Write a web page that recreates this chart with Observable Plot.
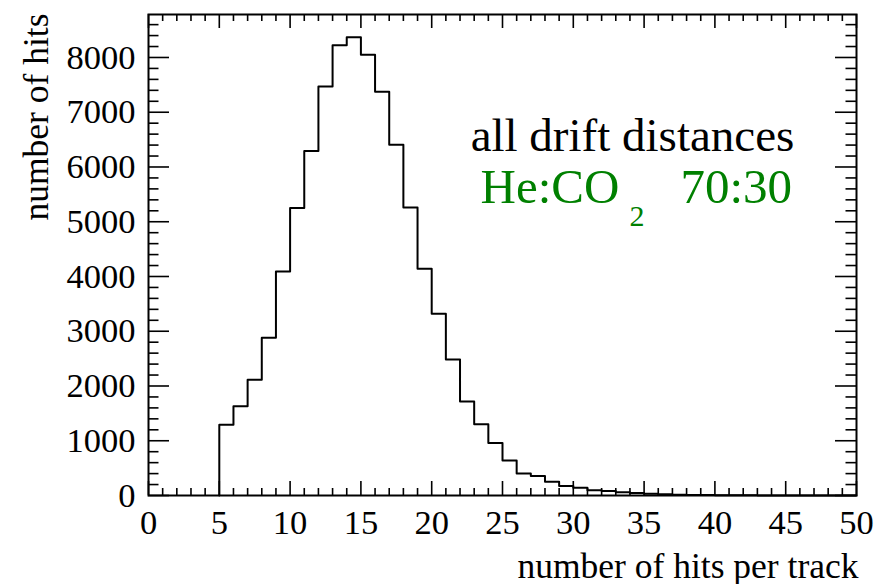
<!DOCTYPE html>
<html>
<head>
<meta charset="utf-8">
<script src="https://cdn.jsdelivr.net/npm/d3@7"></script>
<script src="https://cdn.jsdelivr.net/npm/@observablehq/plot@0.6"></script>
<style>
  html, body { margin: 0; padding: 0; background: #fff; }
  #chart svg { display: block; }
</style>
</head>
<body>
<div id="chart"></div>
<script>
// Hits-per-track histogram, unit-width bins starting at 5 hits.
const binStart = 5;
const hitCounts = [
  1290, 1630, 2115, 2880, 4090, 5250, 6290, 7470, 8225, 8370,  // 5-14
  8050, 7375, 6405, 5260, 4140, 3320, 2485, 1715, 1300, 960,   // 15-24
  640, 400, 355, 250, 175, 140, 95, 80, 60, 45,                // 25-34
  32, 24, 15, 10, 7, 5, 4, 3, 2, 2,                            // 35-44
  1, 1, 1, 0, 0                                                // 45-49
];

// Axis ticks
const xMajorTicks = [0, 5, 10, 15, 20, 25, 30, 35, 40, 45, 50];
const yMajorTicks = [0, 1000, 2000, 3000, 4000, 5000, 6000, 7000, 8000];
const xMinorStep = 1;
const yMinorStep = 200;

// Texts
const xTitle = "number of hits per track";
const yTitle = "number of hits";
const selectionLabel = "all drift distances";
const gasLabel = "He:CO";
const gasSubscript = "2";
const gasMixture = "70:30";

// Layout
const W = 879, H = 584;
const mL = 148, mR = 23, mT = 14, mB = 89;
const frameW = W - mL - mR;
const frameH = H - mT - mB;
const xDomain = [0, 50];
const yDomain = [0, 8785];

const serif = '"Liberation Serif", "Times New Roman", Times, serif';
const green = "#008000";

// Minor tick positions (skip the majors)
const xMinorTicks = d3.range(xDomain[0], xDomain[1] + 0.001, xMinorStep).filter(v => v % 5 !== 0);
const yMinorTicks = d3.range(0, yDomain[1], yMinorStep).filter(v => v % 1000 !== 0);

// Step outline of the histogram: rise at the first edge, run along each bin, drop at the end
const outline = [{x: binStart, y: 0}]
  .concat(hitCounts.map((v, i) => ({x: binStart + i, y: v})))
  .concat([{x: binStart + hitCounts.length, y: hitCounts[hitCounts.length - 1]},
           {x: binStart + hitCounts.length, y: 0}]);

// Inward tick marks (ROOT style), drawn with fixed pixel lengths through insets
const tickLenX = 14, tickLenXMinor = 7;
const tickLenY = 21, tickLenYMinor = 10.5;
const tickStyle = {stroke: "black", strokeWidth: 1.6};

const chart = Plot.plot({
  width: W,
  height: H,
  marginLeft: mL,
  marginRight: mR,
  marginTop: mT,
  marginBottom: mB,
  style: {fontFamily: serif, fontSize: "34px", background: "white", color: "black", overflow: "visible"},
  x: {domain: xDomain, axis: null},
  y: {domain: yDomain, axis: null},
  marks: [
    // bottom and top x ticks
    Plot.tickX(xMajorTicks, {x: d => d, insetTop: frameH - tickLenX, ...tickStyle}),
    Plot.tickX(xMinorTicks, {x: d => d, insetTop: frameH - tickLenXMinor, ...tickStyle}),
    Plot.tickX(xMajorTicks, {x: d => d, insetBottom: frameH - tickLenX, ...tickStyle}),
    Plot.tickX(xMinorTicks, {x: d => d, insetBottom: frameH - tickLenXMinor, ...tickStyle}),
    // left and right y ticks
    Plot.tickY(yMajorTicks, {y: d => d, insetRight: frameW - tickLenY, ...tickStyle}),
    Plot.tickY(yMinorTicks, {y: d => d, insetRight: frameW - tickLenYMinor, ...tickStyle}),
    Plot.tickY(yMajorTicks, {y: d => d, insetLeft: frameW - tickLenY, ...tickStyle}),
    Plot.tickY(yMinorTicks, {y: d => d, insetLeft: frameW - tickLenYMinor, ...tickStyle}),

    // tick labels
    Plot.axisX({ticks: xMajorTicks, tickSize: 0, tickPadding: 14, tickFormat: d => String(d),
                label: null, fontSize: 34.5, fontFamily: serif}),
    Plot.axisY({ticks: yMajorTicks, tickSize: 0, tickPadding: 13, tickFormat: d => String(d),
                label: null, fontSize: 34.5, fontFamily: serif}),

    // histogram
    Plot.line(outline, {x: "x", y: "y", curve: "step-after", stroke: "black", strokeWidth: 2}),

    // frame
    Plot.frame({stroke: "black", strokeWidth: 2}),

    // axis titles
    Plot.text([xTitle], {text: d => d, frameAnchor: "bottom-right", textAnchor: "end",
                         lineAnchor: "bottom", dx: 2, dy: 82, fontSize: 35.5}),
    Plot.text([yTitle], {text: d => d, frameAnchor: "top-left", textAnchor: "end",
                         lineAnchor: "bottom", rotate: -90, dx: -101, dy: -1, fontSize: 35.5}),

    // annotations
    Plot.text([selectionLabel], {text: d => d, x: () => 34.18, y: () => 6301,
                                 textAnchor: "middle", lineAnchor: "bottom", fontSize: 47, fill: "black"}),
    Plot.text([gasLabel], {text: d => d, x: () => 33.25, y: () => 5351,
                           textAnchor: "end", lineAnchor: "bottom", fontSize: 49, fill: green}),
    Plot.text([gasSubscript], {text: d => d, x: () => 33.97, y: () => 4931,
                               textAnchor: "start", lineAnchor: "bottom", fontSize: 30, fill: green}),
    Plot.text([gasMixture], {text: d => d, x: () => 37.57, y: () => 5351,
                             textAnchor: "start", lineAnchor: "bottom", fontSize: 49, fill: green})
  ]
});

document.getElementById("chart").appendChild(chart);
</script>
</body>
</html>
